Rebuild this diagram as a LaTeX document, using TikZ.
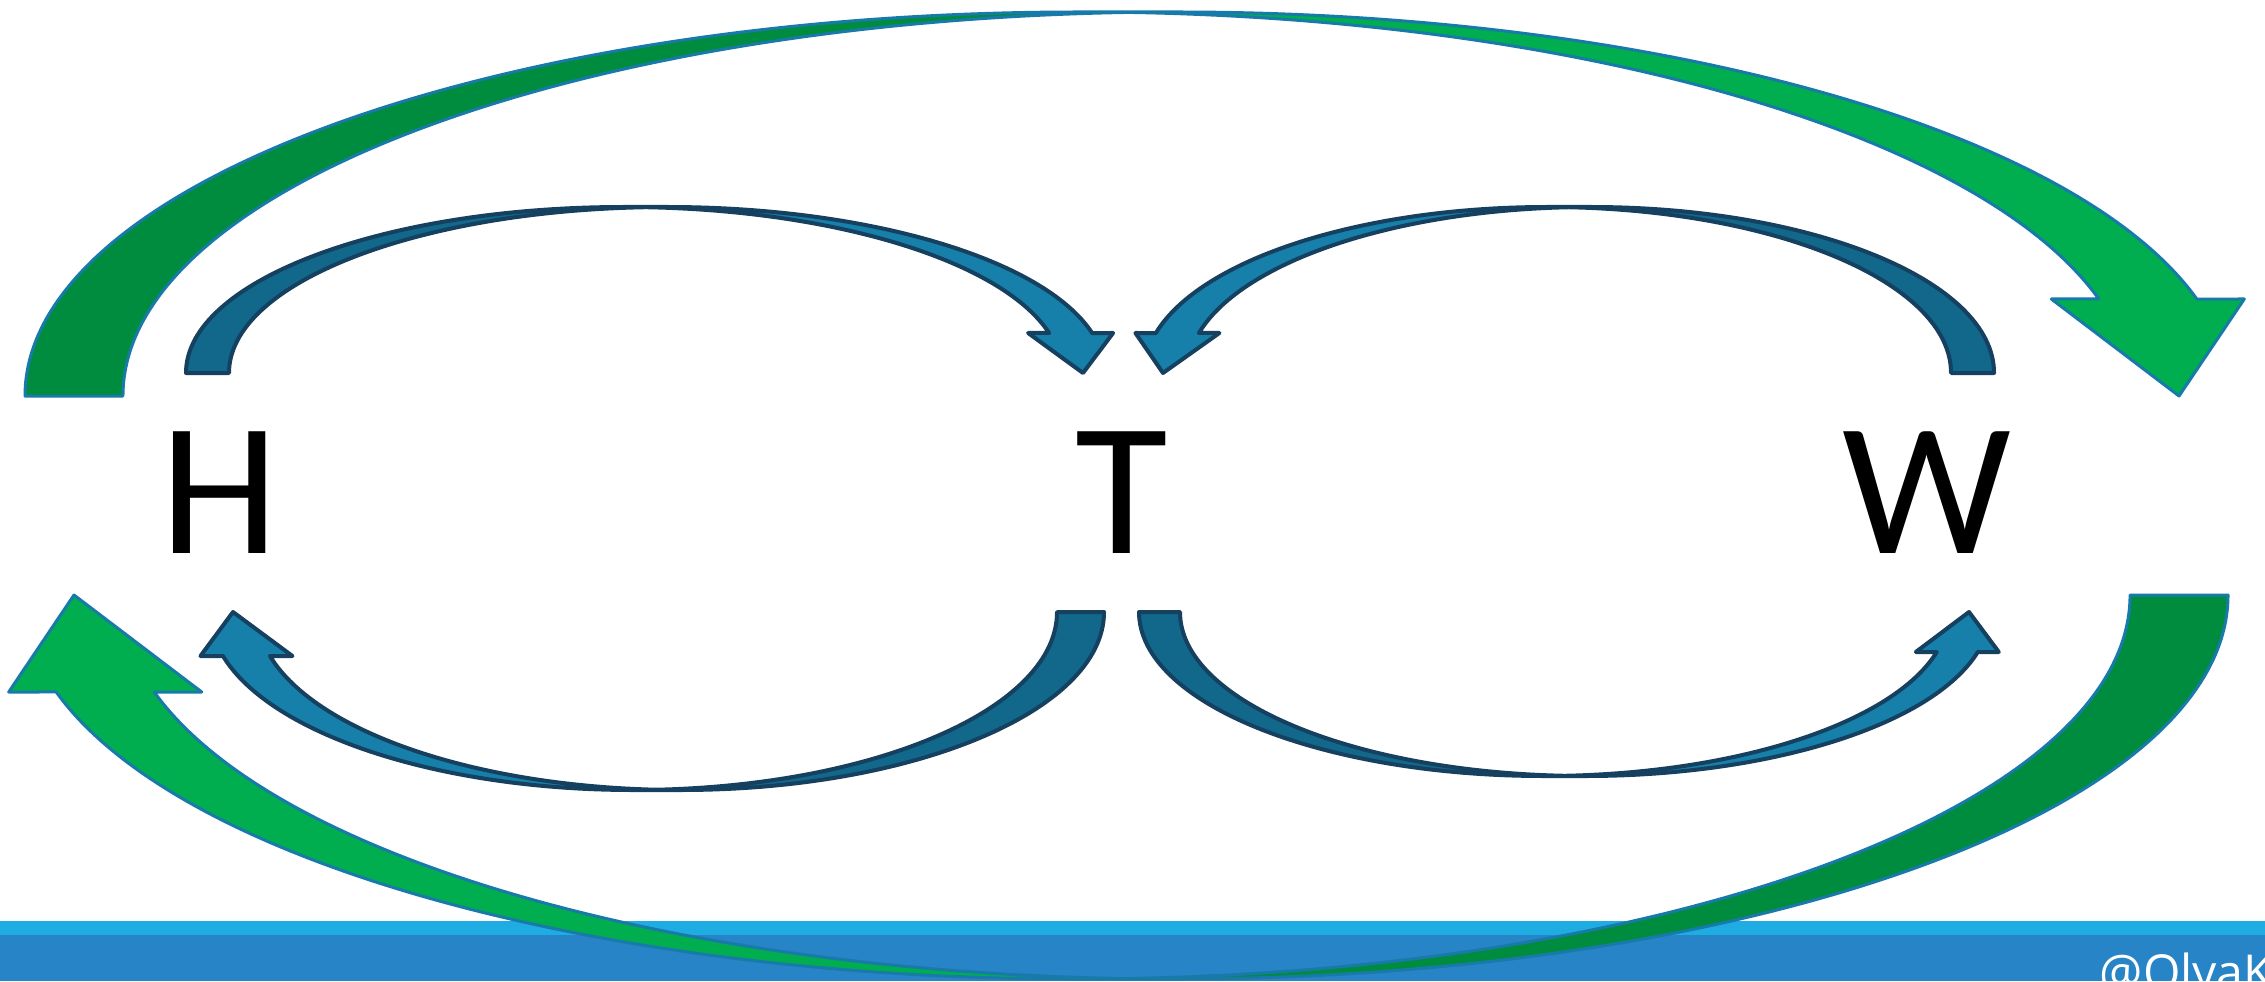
\documentclass[tikz,border=0pt]{standalone}
\usepackage{fontspec}
\newfontfamily\lettersfont{Carlito}
\newfontfamily\handlefont{Open Sans}
\definecolor{greenback}{RGB}{0,140,62}
\definecolor{greenfront}{RGB}{0,174,80}
\definecolor{greenedge}{RGB}{23,122,168}
\definecolor{blueback}{RGB}{17,104,138}
\definecolor{bluefront}{RGB}{22,128,170}
\definecolor{blueedge}{RGB}{21,64,96}
\definecolor{bandlight}{RGB}{31,172,227}
\definecolor{banddark}{RGB}{39,132,198}
\tikzset{
  greenbackfill/.style={fill=greenback},
  greenfrontfill/.style={fill=greenfront},
  greenlinedraw/.style={draw=greenedge, line width=0.3mm, line join=round},
  bluebackfill/.style={fill=blueback},
  bluefrontfill/.style={fill=bluefront},
  bluelinedraw/.style={draw=blueedge, line width=0.4mm, line join=round},
  letter/.style={anchor=base, inner sep=0pt, font=\lettersfont\fontsize{54}{54}\selectfont},
}
% #1 scope options, #2 shaft width, #3 x radius, #4 height, #5 head length,
% #6 head width, #7 tip position, #8 colour style prefix
\newcommand\curvedarrowshape[8]{%
\begin{scope}[#1]
\pgfmathsetmacro\cR{#3}
\pgfmathsetmacro\cH{#4}
\pgfmathsetmacro\cA{#5}
\pgfmathsetmacro\cPhi{asin(#5/#4)}
\pgfmathsetmacro\cXv{#3*(1+cos(\cPhi))}
\pgfmathsetmacro\cXs{\cXv+#2}
\pgfmathsetmacro\cDh{(#6-#2)/2}
\pgfmathsetmacro\cXi{\cXv-\cDh}
\pgfmathsetmacro\cXo{\cXs+\cDh}
\pgfmathsetmacro\cPsi{acos(#2/(2*#3))}
\pgfmathsetmacro\cPsiB{180-\cPsi}
\pgfmathsetmacro\cIx{#3+#2/2}
\pgfmathsetmacro\cIy{#4*sin(\cPsi)}
\pgfmathsetmacro\cTop{#3+#2}
\fill[#8backfill] (0,0) arc[start angle=180, end angle=\cPsi, x radius=\cR, y radius=\cH]
  arc[start angle=\cPsiB, end angle=180, x radius=\cR, y radius=\cH] -- cycle;
\fill[#8frontfill] (\cR,\cH) -- (\cTop,\cH)
  arc[start angle=90, end angle=\cPhi, x radius=\cR, y radius=\cH]
  -- (\cXo,\cA) -- (#7,0) -- (\cXi,\cA) -- (\cXv,\cA)
  arc[start angle=\cPhi, end angle=90, x radius=\cR, y radius=\cH] -- cycle;
\draw[#8linedraw] (\cIx,\cIy)
  arc[start angle=\cPsiB, end angle=180, x radius=\cR, y radius=\cH] -- (0,0)
  arc[start angle=180, end angle=90, x radius=\cR, y radius=\cH] -- (\cTop,\cH)
  arc[start angle=90, end angle=\cPhi, x radius=\cR, y radius=\cH]
  -- (\cXo,\cA) -- (#7,0) -- (\cXi,\cA) -- (\cXv,\cA)
  arc[start angle=\cPhi, end angle=90, x radius=\cR, y radius=\cH];
\end{scope}}
\begin{document}
\begin{tikzpicture}[x=0.1mm, y=-0.1mm]
\useasboundingbox (0,0) rectangle (2265,981);
\clip (0,0) rectangle (2265,981);
\fill[white] (0,0) rectangle (2265,981);
% bottom band
\fill[bandlight] (0,921) rectangle (2265,935);
\fill[banddark] (0,935) rectangle (2265,981);
\node[anchor=base west, inner sep=0pt, text=white, font=\handlefont\fontsize{13.7}{14}\selectfont] (handle) at (2099,989) {@OlyaKu};
% letters
\node[letter] (H) at (219.5,553) {H};
\node[letter] (T) at (1122,553) {T};
\node[letter] (W) at (1927,553) {W};
% green arrows
\curvedarrowshape{shift={(25,396)}, xscale=1, yscale=-1}{98}{1054}{384}{97}{193}{2154}{green}
\curvedarrowshape{shift={(2228,595)}, xscale=-1, yscale=1}{98}{1054}{384}{97}{193}{2154}{green}
% blue arrows
\curvedarrowshape{shift={(186,373)}, xscale=1, yscale=-1}{43}{438}{166}{40}{85}{897}{blue}
\curvedarrowshape{shift={(1994,373)}, xscale=-1, yscale=-1}{43}{403.5}{166}{40}{84}{831}{blue}
\curvedarrowshape{shift={(1104,612)}, xscale=-1, yscale=1}{47}{423.6}{178}{44}{92}{871}{blue}
\curvedarrowshape{shift={(1139,612)}, xscale=1, yscale=1}{41}{405}{164}{40}{83}{830}{blue}
\end{tikzpicture}
\end{document}
